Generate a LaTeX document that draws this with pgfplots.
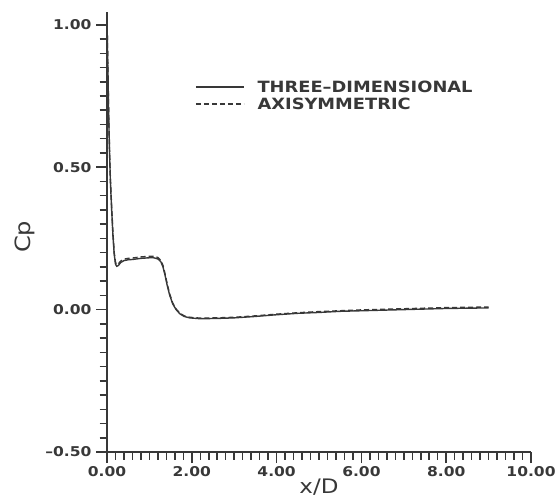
\documentclass[border=0pt]{standalone}
\usepackage{fontspec}
\setmainfont{DejaVu Sans}[FakeStretch=1.15]
\usepackage{pgfplots}
\pgfplotsset{compat=1.18}
\definecolor{ink}{gray}{0.22}
\begin{document}
\begin{tikzpicture}
\useasboundingbox (0,0) rectangle (556bp,500bp);
\begin{axis}[
  at={(107bp,48bp)}, anchor=south west,
  scale only axis, width=424bp, height=440bp,
  xmin=0, xmax=10, ymin=-0.5, ymax=1.045,
  axis lines=left,
  axis line style={-, line width=1.6bp, ink},
  every tick/.style={line width=1.5bp, ink},
  tick align=outside,
  major tick length=11bp, minor tick length=7.5bp,
  xtick={0,2,4,6,8,10},
  xticklabels={0.00,2.00,4.00,6.00,8.00,10.00},
  minor x tick num=9,
  ytick={-0.5,0,0.5,1},
  yticklabels={--0.50,0.00,0.50,1.00},
  minor y tick num=9,
  ticklabel style={font=\fontsize{13.5bp}{15bp}\selectfont\bfseries, text=ink},
  xticklabel style={yshift=0bp},
  yticklabel style={xshift=-1bp},
  xlabel={x/D}, ylabel={Cp},
  xlabel style={at={(axis description cs:0.5,-0.08)}, anchor=center, font=\fontsize{20bp}{22bp}\selectfont, text=ink},
  ylabel style={at={(axis description cs:-0.193,0.489)}, anchor=center, font=\fontsize{21bp}{23bp}\selectfont, text=ink},
  legend cell align=left,
  legend style={draw=none, fill=none, at={(0.2075,0.81)}, anchor=west,
    inner sep=0pt, row sep=2bp,
    nodes={inner sep=1bp, font=\fontsize{15.5bp}{17bp}\selectfont\bfseries, text=ink},
    /tikz/every odd column/.append style={column sep=12bp}},
  legend image code/.code={\draw[#1] (0bp,0bp) -- (48bp,0bp);},
]
\addplot[ink, line width=1.4bp] coordinates {
(0.0,1.02)(0.02,0.85)(0.04,0.68)(0.06,0.55)(0.08,0.45)(0.11,0.35)(0.14,0.26)(0.17,0.195)(0.20,0.160)(0.23,0.152)(0.27,0.155)(0.32,0.165)(0.40,0.172)(0.50,0.175)(0.60,0.176)(0.70,0.178)(0.80,0.180)(0.90,0.181)(1.00,0.182)(1.10,0.182)(1.20,0.178)(1.27,0.168)(1.32,0.150)(1.37,0.120)(1.42,0.085)(1.48,0.050)(1.55,0.020)(1.63,0.000)(1.72,-0.015)(1.82,-0.024)(1.95,-0.029)(2.20,-0.032)(2.60,-0.031)(3.00,-0.029)(3.50,-0.024)(4.00,-0.018)(4.50,-0.013)(5.00,-0.010)(5.50,-0.006)(6.00,-0.004)(6.50,-0.002)(7.00,0.000)(7.50,0.002)(8.00,0.004)(8.50,0.005)(9.00,0.006)
};
\addlegendentry{THREE--DIMENSIONAL}
\addplot[ink, line width=1.4bp, dash pattern=on 5bp off 3bp] coordinates {
(0.0,1.02)(0.02,0.86)(0.04,0.69)(0.06,0.56)(0.08,0.46)(0.11,0.36)(0.14,0.27)(0.17,0.20)(0.20,0.166)(0.23,0.158)(0.27,0.161)(0.32,0.170)(0.40,0.177)(0.50,0.180)(0.60,0.181)(0.70,0.183)(0.80,0.185)(0.90,0.186)(1.00,0.187)(1.10,0.187)(1.20,0.183)(1.27,0.173)(1.32,0.155)(1.37,0.125)(1.42,0.090)(1.48,0.054)(1.55,0.023)(1.63,0.002)(1.72,-0.013)(1.82,-0.022)(1.95,-0.027)(2.20,-0.030)(2.60,-0.029)(3.00,-0.027)(3.50,-0.022)(4.00,-0.016)(4.50,-0.011)(5.00,-0.007)(5.50,-0.004)(6.00,-0.001)(6.50,0.001)(7.00,0.003)(7.50,0.005)(8.00,0.007)(8.50,0.008)(9.00,0.009)
};
\addlegendentry{AXISYMMETRIC}
\end{axis}
\end{tikzpicture}
\end{document}
